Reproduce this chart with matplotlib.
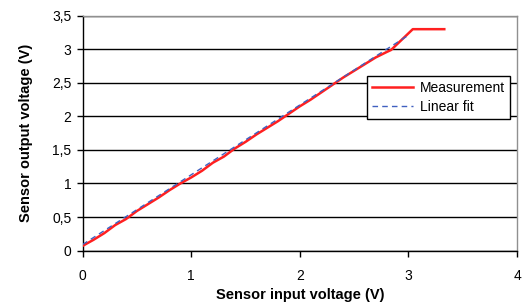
import matplotlib.pyplot as plt

plt.rcParams['font.family'] = ['Liberation Sans', 'DejaVu Sans']

# measured sensor response (V)
meas_x = [0.0, 0.1, 0.2, 0.3, 0.4, 0.5, 0.6, 0.7, 0.8, 0.9,
          1.0, 1.1, 1.2, 1.3, 1.4, 1.5, 1.6, 1.7, 1.8, 1.9,
          2.0, 2.1, 2.2, 2.3, 2.4, 2.5, 2.6, 2.7, 2.8, 2.84,
          3.04, 3.33]
meas_y = [0.07, 0.16, 0.26, 0.38, 0.47, 0.59, 0.69, 0.79, 0.90, 1.00,
          1.09, 1.19, 1.31, 1.40, 1.52, 1.62, 1.73, 1.83, 1.93, 2.04,
          2.15, 2.25, 2.36, 2.47, 2.58, 2.68, 2.78, 2.88, 2.96, 2.99,
          3.30, 3.30]

# linear fit end points
fit_x = [0.0, 3.0]
fit_y = [0.09, 3.21]

x_ticks = [0, 1, 2, 3, 4]
y_ticks = [0, 0.5, 1, 1.5, 2, 2.5, 3, 3.5]
y_tick_labels = ['0', '0,5', '1', '1,5', '2', '2,5', '3', '3,5']

fig = plt.figure(figsize=(5.26, 3.03), dpi=100)
ax = fig.add_axes([0.157, 0.173, 0.826, 0.775])

ax.plot(meas_x, meas_y, color='#ff2020', linewidth=1.8, label='Measurement', zorder=3)
ax.plot(fit_x, fit_y, color='#4060c0', linewidth=1.0, linestyle=(0, (4, 3)),
        label='Linear fit', zorder=4)

ax.set_xlim(0, 4)
ax.set_ylim(0, 3.5)
ax.set_xticks(x_ticks)
ax.set_xticklabels([str(t) for t in x_ticks])
ax.set_yticks(y_ticks)
ax.set_yticklabels(y_tick_labels)
ax.tick_params(direction='out', length=4, width=1, labelsize=10, colors='black', pad=4)
ax.tick_params(axis='x', pad=9)

ax.yaxis.grid(True, color='black', linewidth=1)
ax.set_axisbelow(True)

for side in ['left', 'bottom']:
    ax.spines[side].set_color('black')
    ax.spines[side].set_linewidth(1)
for side in ['top', 'right']:
    ax.spines[side].set_color('#909090')
    ax.spines[side].set_linewidth(1)

ax.set_xlabel('Sensor input voltage (V)', fontsize=10.5, fontweight='bold', labelpad=4)
ax.set_ylabel('Sensor output voltage (V)', fontsize=10.5, fontweight='bold', labelpad=14)

leg = ax.legend(loc='upper left', bbox_to_anchor=(0.654, 0.743), borderaxespad=0,
                fontsize=10, frameon=True, fancybox=False, shadow=False,
                handlelength=3.0, handletextpad=0.5, borderpad=0.35, labelspacing=0.35)
leg.get_frame().set_edgecolor('black')
leg.get_frame().set_linewidth(1)
leg.get_frame().set_alpha(1)

fig.savefig('out.png', dpi=100)
